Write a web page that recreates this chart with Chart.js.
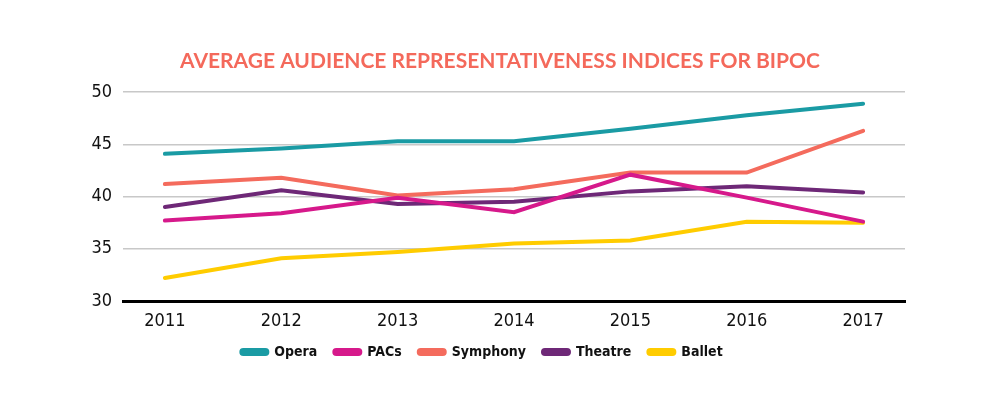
<!DOCTYPE html>
<html>
<head>
<meta charset="utf-8">
<script src="https://cdn.jsdelivr.net/npm/chart.js@4.4.0/dist/chart.umd.min.js"></script>
<style>
  html, body { margin: 0; padding: 0; background: #ffffff; }
  #wrap { width: 1000px; height: 417px; }
</style>
</head>
<body>
<div id="wrap"><canvas id="chart" width="1000" height="417"></canvas></div>
<script>
// Data
const years = [2011, 2012, 2013, 2014, 2015, 2016, 2017];
const opera    = [44.1, 44.6, 45.3, 45.3, 46.5, 47.8, 48.9];
const pacs     = [37.7, 38.4, 39.9, 38.5, 42.1, 39.9, 37.6];
const symphony = [41.2, 41.8, 40.1, 40.7, 42.3, 42.3, 46.3];
const theatre  = [39.0, 40.6, 39.3, 39.5, 40.5, 41.0, 40.4];
const ballet   = [32.2, 34.1, 34.7, 35.5, 35.8, 37.6, 37.5];
const yTicks = [30, 35, 40, 45, 50];

const colors = {
    opera: '#1a9ba4',
    pacs: '#d6198b',
    symphony: '#f46b5d',
    theatre: '#6e2877',
    ballet: '#ffcc00'
};

const tickFont = "'Liberation Sans Narrow', 'DejaVu Sans Condensed', sans-serif";

function series(label, values, color) {
    return {
        label: label,
        data: years.map((y, i) => ({ x: y, y: values[i] })),
        borderColor: color,
        backgroundColor: color,
        borderWidth: 4,
        pointRadius: 0,
        tension: 0,
        borderCapStyle: 'round',
        borderJoinStyle: 'miter'
    };
}

// the legend in the original sits a little left of centre
const legendShift = {
    id: 'legendShift',
    afterLayout(chart) {
        const lg = chart.legend;
        if (lg) {
            lg.left -= 18;
            lg.right -= 18;
        }
    }
};

const ctx = document.getElementById('chart').getContext('2d');
new Chart(ctx, {
    type: 'line',
    data: {
        datasets: [
            series('Opera', opera, colors.opera),
            series('PACs', pacs, colors.pacs),
            series('Symphony', symphony, colors.symphony),
            series('Theatre', theatre, colors.theatre),
            series('Ballet', ballet, colors.ballet)
        ]
    },
    plugins: [legendShift],
    options: {
        responsive: false,
        animation: false,
        layout: {
            padding: { left: 0, right: 0, top: 49, bottom: 48 }
        },
        plugins: {
            title: {
                display: true,
                text: 'AVERAGE AUDIENCE REPRESENTATIVENESS INDICES FOR BIPOC',
                color: '#f4695b',
                font: { family: "Lato, sans-serif", size: 21, weight: 'bold' },
                padding: { top: 0, bottom: 18 }
            },
            legend: {
                position: 'bottom',
                labels: {
                    color: '#111111',
                    boxWidth: 26,
                    boxHeight: 4,
                    useBorderRadius: true,
                    borderRadius: 2,
                    padding: 17,
                    font: { family: tickFont, size: 14, weight: 'bold' }
                }
            },
            tooltip: { enabled: false }
        },
        scales: {
            x: {
                type: 'linear',
                min: 2010.64,
                max: 2017.36,
                afterBuildTicks: (scale) => {
                    scale.ticks = years.map(v => ({ value: v }));
                },
                afterFit: (scale) => {
                    scale.height = 27;
                },
                grid: { display: false, drawTicks: false },
                border: { display: true, color: '#000000', width: 3 },
                ticks: {
                    color: '#111111',
                    padding: 10,
                    font: { family: tickFont, size: 18 },
                    callback: (value) => String(value)
                }
            },
            y: {
                min: 30,
                max: 50,
                afterBuildTicks: (scale) => {
                    scale.ticks = yTicks.map(v => ({ value: v }));
                },
                afterFit: (scale) => {
                    scale.width = 123;
                },
                grid: {
                    color: (c) => c.tick && c.tick.value === 30 ? 'rgba(0,0,0,0)' : '#c8c8c8',
                    lineWidth: 1.5,
                    drawTicks: false
                },
                border: { display: false },
                ticks: {
                    color: '#111111',
                    padding: 11,
                    font: { family: tickFont, size: 18 }
                }
            },
            // empty space on the right, as in the original
            yRight: {
                position: 'right',
                afterFit: (scale) => {
                    scale.width = 95;
                },
                grid: { display: false, drawTicks: false },
                border: { display: false },
                ticks: { display: false }
            }
        }
    }
});
</script>
</body>
</html>
